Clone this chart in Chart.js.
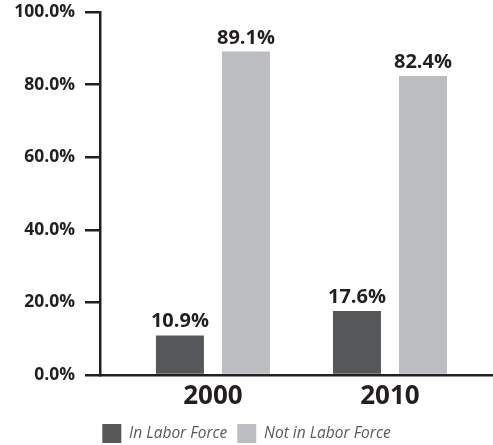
<!DOCTYPE html>
<html>
<head>
<meta charset="utf-8">
<script src="https://cdn.jsdelivr.net/npm/chart.js@4/dist/chart.umd.min.js"></script>
<style>
  html, body { margin: 0; padding: 0; background: #fff; overflow: hidden; }
  /* a bit taller than the window so the legend's bottom padding falls off-screen */
  #wrap { width: 493px; height: 453px; }
</style>
</head>
<body>
<div id="wrap"><canvas id="chart"></canvas></div>
<script>
// data
const years = ['2000', '2010'];
const inLaborForce = [10.9, 17.6];
const notInLaborForce = [89.1, 82.4];
const seriesNames = ['In Labor Force', 'Not in Labor Force'];

const ink = '#231f20';
const font = '"Open Sans", "DejaVu Sans", sans-serif';

// value labels over the bars
const barLabels = {
    id: 'barLabels',
    afterDatasetsDraw(chart) {
        const ctx = chart.ctx;
        ctx.save();
        ctx.fillStyle = ink;
        ctx.font = 'bold 20px ' + font;
        ctx.textAlign = 'center';
        ctx.textBaseline = 'alphabetic';
        chart.data.datasets.forEach((ds, i) => {
            chart.getDatasetMeta(i).data.forEach((bar, j) => {
                ctx.fillText(ds.data[j].y.toFixed(1) + '%', bar.x, bar.y - 8);
            });
        });
        ctx.restore();
    }
};

const toPoints = arr => arr.map((v, i) => ({ x: i, y: v }));

new Chart(document.getElementById('chart'), {
    type: 'bar',
    data: {
        datasets: [
            { label: seriesNames[0], data: toPoints(inLaborForce), backgroundColor: '#555759' },
            { label: seriesNames[1], data: toPoints(notInLaborForce), backgroundColor: '#bcbdc1' }
        ]
    },
    options: {
        responsive: true,
        maintainAspectRatio: false,
        animation: false,
        barPercentage: 0.727,
        categoryPercentage: 0.746,
        layout: { padding: 0 },
        plugins: {
            tooltip: { enabled: false },
            legend: {
                position: 'bottom',
                labels: {
                    boxWidth: 19,
                    boxHeight: 19,
                    padding: 10,
                    color: '#58595b',
                    font: { family: font, size: 15.5, style: 'italic' }
                }
            }
        },
        scales: {
            x: {
                type: 'linear',
                offset: false,
                min: -0.638,
                max: 1.582,
                afterBuildTicks: s => { s.ticks = years.map((y, i) => ({ value: i })); },
                grid: { display: false },
                border: { color: ink, width: 2.5 },
                ticks: {
                    color: ink,
                    padding: -2,
                    maxRotation: 0,
                    autoSkip: false,
                    font: { family: font, size: 26, weight: 'bold' },
                    callback: v => years[v]
                },
                afterFit: s => { s.height = 39; }
            },
            y: {
                min: 0,
                max: 100,
                ticks: {
                    stepSize: 20,
                    color: ink,
                    padding: 10,
                    font: { family: font, size: 17.5, weight: 'bold' },
                    callback: v => v.toFixed(1) + '%'
                },
                grid: { drawOnChartArea: false, tickLength: 15, color: ink, lineWidth: 2.5 },
                border: { color: ink, width: 2.5 },
                afterFit: s => { s.width = 100; s.paddingTop = 12; s.paddingBottom = 0; }
            }
        }
    },
    plugins: [barLabels]
});
</script>
</body>
</html>
